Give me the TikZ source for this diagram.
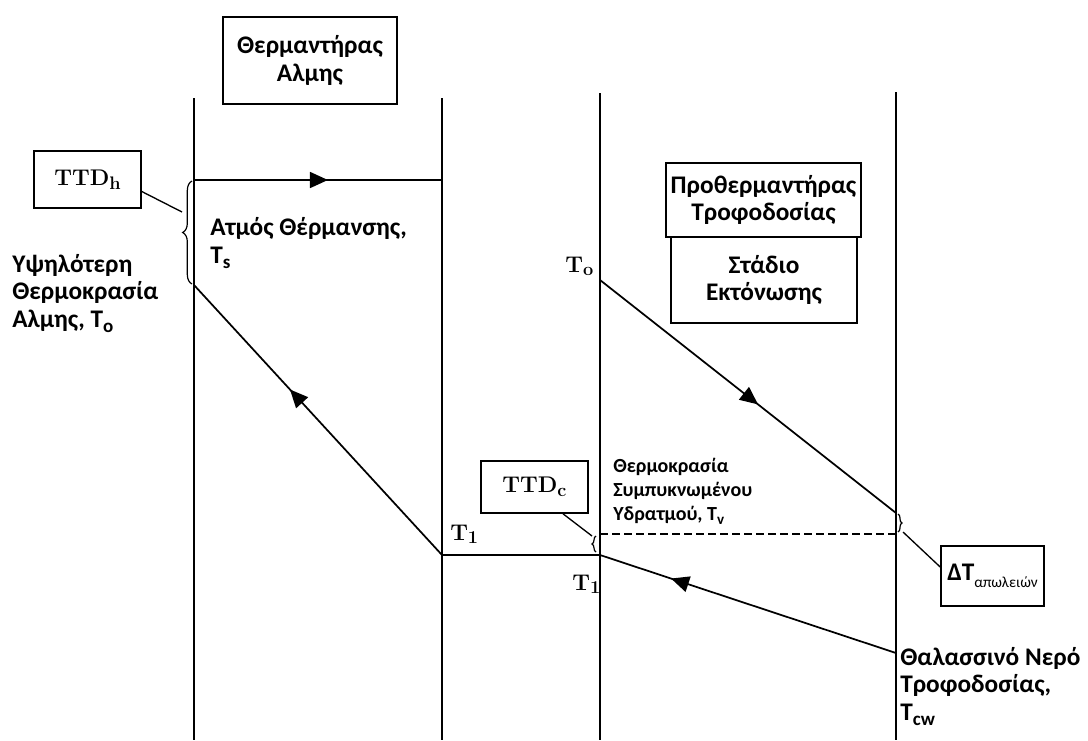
\documentclass[tikz,border=0pt]{standalone}
\usepackage{fontspec}
\newfontfamily\gr{Carlito}
\usetikzlibrary{arrows.meta,decorations.markings,decorations.pathreplacing}
% lowered subscripts used in the labels
\newcommand\lo[1]{\raisebox{-0.45ex}{\scalebox{0.75}{#1}}}
\newcommand\los[1]{\raisebox{-0.35ex}{\scalebox{0.8}{#1}}}

\begin{document}
\begin{tikzpicture}[x=0.75pt,y=-0.75pt,
  wall/.style={line width=1.3pt},
  flow/.style={line width=1.3pt},
  lead/.style={line width=1pt},
  boxed/.style={draw,line width=1.2pt,inner sep=0pt,align=center},
  grbig/.style={font=\gr\bfseries\fontsize{19}{20.5}\selectfont},
  grsmall/.style={font=\gr\bfseries\fontsize{15}{18}\selectfont},
  serif/.style={font=\bfseries\fontsize{17}{19}\selectfont},
  label/.style={inner sep=0pt,align=left},
  midarrow/.style={postaction={decorate},decoration={markings,
      mark=at position #1 with {\arrow{Triangle[length=13.5pt,width=12pt]}}}},
  bracepath/.style={decorate,decoration={brace,amplitude=#1},line width=0.9pt},
]
\useasboundingbox (0,0) rectangle (1088,740);

% vertical walls of the two heat exchangers
\coordinate (w1t) at (194,98);  \coordinate (w1b) at (194,740);
\coordinate (w2t) at (442,98);  \coordinate (w2b) at (442,740);
\coordinate (w3t) at (600,93);  \coordinate (w3b) at (600,740);
\coordinate (w4t) at (896,92);  \coordinate (w4b) at (896,740);
\draw[wall] (w1t) -- (w1b);
\draw[wall] (w2t) -- (w2b);
\draw[wall] (w3t) -- (w3b);
\draw[wall] (w4t) -- (w4b);

% temperature profiles
\coordinate (sIn)  at (194,180);
\coordinate (sOut) at (442,180);
\coordinate (bTop) at (194,285);
\coordinate (bLow) at (442,555);
\coordinate (cLow) at (600,555);
\coordinate (fTo)  at (600,280);
\coordinate (fEnd) at (896,513);
\coordinate (sw)   at (896,653);
\coordinate (tv)   at (600,534);
\coordinate (tvR)  at (896,534);

\draw[flow,midarrow=0.54] (sIn) -- (sOut);
\draw[flow,midarrow=0.613] (bLow) -- (bTop);
\draw[flow] (bLow) -- (cLow);
\draw[flow,midarrow=0.534] (fTo) -- (fEnd);
\draw[flow,midarrow=0.76] (sw) -- (cLow);
\draw[line width=1pt,dashed,dash pattern=on 6pt off 3pt] (tv) -- (tvR);

% boxes
\node[boxed,grbig,minimum width=130.5pt,minimum height=65.25pt] (heater) at (310,60.5)
  {Θερμαντήρας\\Αλμης};
\node[boxed,grbig,minimum width=146.25pt,minimum height=55.5pt] (preheat) at (763.5,200)
  {Προθερμαντήρας\\Τροφοδοσίας};
\node[boxed,grbig,minimum width=139.5pt,minimum height=64.5pt] (stage) at (764,280)
  {Στάδιο\\Εκτόνωσης};
\node[boxed,serif,minimum width=80.25pt,minimum height=42.75pt] (ttdh) at (87.5,179.5)
  {TTD\los{h}};
\node[boxed,serif,minimum width=80.25pt,minimum height=39pt] (ttdc) at (534.5,487)
  {TTD\los{c}};
\node[boxed,minimum width=77.25pt,minimum height=45pt] (dt) at (992.5,576)
  {{\gr\bfseries\fontsize{19}{20}\selectfont ΔT}\raisebox{-1.2ex}{\gr\fontsize{11.5}{13}\selectfont απωλειών}};

% braces and their leaders
\draw[bracepath=7pt] (192,284) -- (192,181);
\draw[bracepath=3pt] (596,552) -- (596,536);
\draw[bracepath=3pt] (898,514) -- (898,532);
\coordinate (brh) at (182,212);
\coordinate (brc) at (592,536);
\coordinate (brd) at (903,532);
\draw[lead] ([yshift=-9pt]ttdh.east) -- (brh);
\draw[lead] ([xshift=21.4pt]ttdc.south) -- (brc);
\draw[lead] (brd) -- ([yshift=6.75pt]dt.west);

% text labels (anchored at the baseline of their last line)
\node[label,grbig,anchor=base west] (steam) at (210,263) {Ατμός Θέρμανσης,\\T\lo{s}};
\node[label,grbig,anchor=base west] (brine) at (12,327) {Υψηλότερη\\Θερμοκρασία\\Αλμης, T\lo{o}};
\node[label,grbig,anchor=base west] (sea) at (900,720) {Θαλασσινό Νερό\\Τροφοδοσίας,\\T\lo{cw}};
\node[label,grsmall,anchor=base west] (vap) at (613,520) {Θερμοκρασία\\Συμπυκνωμένου\\Υδρατμού, T\lo{v}};
\node[label,serif,anchor=base west] (to) at (565,272) {T\los{o}};
\node[label,serif,anchor=base west] (t1a) at (450,540) {T\los{1}};
\node[label,serif,anchor=base west] (t1b) at (572,590) {T\los{1}};
\end{tikzpicture}
\end{document}
